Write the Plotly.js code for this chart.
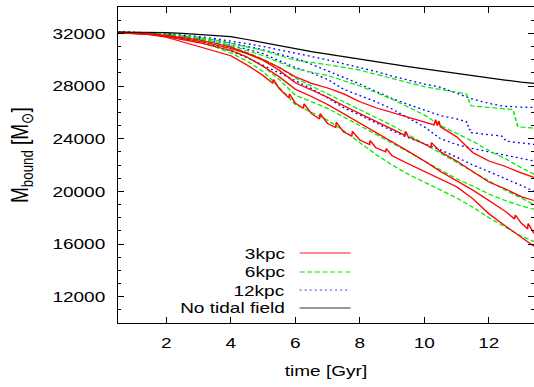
<!DOCTYPE html>
<html><head><meta charset="utf-8">
<script src="https://cdn.plot.ly/plotly-3.0.1.min.js"></script>
<style>
html,body{margin:0;padding:0;background:#fff;overflow:hidden}
#wrap{width:534px;height:387px;overflow:hidden}
#plot{width:421px;height:387px;transform:scaleX(1.26841);transform-origin:0 0}
</style>
</head><body><div id="wrap"><div id="plot"></div></div>
<script>
// ---- data (time in Gyr, bound mass in Msun) ----
var T = [0.5,1,1.5,2,2.5,3,3.5,4,4.5,5,5.5,6,6.5,7,7.5,8,8.5,9,9.5,10,10.5,11,11.5,12,12.5,13,13.4];

var noTidal = [32100,32090,32070,32050,32000,31920,31840,31750,31530,31300,31060,30800,30610,30420,30220,30020,29830,29650,29470,29300,29120,28950,28780,28600,28450,28300,28200];

// 3 kpc runs
var r1T = [0.5,1,1.5,2,2.5,3,3.5,4,4.5,5,5.5,6,6.5,7,7.5,8,8.5,9,9.5,10,10.3,10.35,10.4,10.45,10.5,11,11.3,11.5,12,12.5,13,13.4];
var r1M = [32080,32040,31960,31850,31700,31500,31250,30950,30500,30000,29400,28700,28200,27850,27400,26800,26350,26000,25600,25250,25050,25450,25000,25350,24900,24150,23400,22950,22300,21900,21400,21050];
var r2T = [0.5,1,1.5,2,2.5,3,3.5,4,4.5,5,5.5,6,6.5,7,7.5,8,8.5,9,9.4,9.42,9.5,10,10.2,10.22,10.5,11,11.5,12,12.5,13,13.4];
var r2M = [32070,32020,31930,31800,31620,31400,31130,30850,30450,29950,29200,28250,27700,27150,26500,25900,25300,24700,24250,24550,24150,23600,23350,23700,23000,22300,21500,20700,20200,19600,19300];
var r3T = [0.5,1,1.5,2,2.5,3,3.5,4,4.5,5,5.5,6,6.5,7,7.5,8,8.5,9,9.5,10,10.5,11,11.5,12,12.5,12.8,12.82,13,13.2,13.22,13.4];
var r3M = [32060,32000,31900,31750,31550,31300,31000,30700,30200,29500,28700,27750,27200,26600,25900,25200,24500,23800,23050,22300,21500,20800,20100,19300,18500,17900,18200,17600,17150,17550,16800];
var r4T = [0.5,1,1.5,2,2.5,3,3.5,4,4.5,5,5.3,5.32,5.5,5.8,5.82,6,6.25,6.27,6.5,6.75,6.77,7,7.25,7.27,7.5,7.75,7.77,8,8.3,8.32,8.5,8.8,8.82,9,9.5,10,10.5,11,11.5,12,12.5,13,13.4];
var r4M = [32050,32000,31900,31700,31350,30950,30650,30300,29600,28800,28200,28500,27800,27100,27400,26700,26300,26650,25900,25500,25900,25150,24850,25250,24500,24200,24550,23900,23550,23850,23300,23000,23250,22700,22100,21500,20900,20350,19450,18300,17400,16500,15825];

// 6 kpc runs
var g1T = [0.5,1,1.5,2,2.5,3,3.5,4,4.5,5,5.5,6,6.5,7,7.5,8,8.5,9,9.5,10,10.5,11,11.3,11.45,12,12.5,12.75,12.9,13.4];
var g1M = [32100,32080,32030,31950,31850,31700,31500,31250,30980,30700,30330,29950,29800,29620,29420,29200,28900,28550,28250,27950,27740,27500,27400,26500,26350,26250,26200,24900,24800];
var g2M = [32100,32070,32010,31920,31800,31620,31380,31080,30700,30300,29800,29300,29050,28800,28400,28000,27500,27000,26400,25800,25000,24400,23800,23100,22500,21800,21300];
var g3M = [32090,32060,31990,31880,31740,31540,31280,30950,30550,30050,29400,28600,28000,27400,26800,26200,25600,25000,24300,23600,22900,22200,21500,20800,20100,19500,19000];
var g4M = [32080,32040,31960,31840,31680,31460,31150,30750,30200,29500,28500,27300,26800,26300,25650,25000,24350,23700,23000,22300,21600,20950,20400,19800,19300,18900,18650];
var g5M = [32080,32030,31940,31800,31600,31330,30980,30500,29900,29100,27900,26600,26000,25400,24600,23700,22800,22000,21300,20700,20100,19500,18800,18000,17300,16600,16200];

// 12 kpc runs
var b1M = [32100,32090,32050,31980,31880,31760,31600,31420,31220,31000,30760,30500,30240,29980,29700,29400,29100,28750,28420,28150,27900,27450,27000,26680,26450,26400,26370];
var b2T = [0.5,1,1.5,2,2.5,3,3.5,4,4.5,5,5.5,6,6.5,7,7.5,8,8.5,9,9.5,10,10.5,11,11.3,11.45,12,12.4,12.55,13,13.4];
var b2M = [32100,32080,32030,31950,31830,31680,31500,31280,31020,30750,30450,30100,29650,29150,28700,28150,27600,27050,26600,26150,25750,25500,25300,24450,24300,24200,23800,23650,23560];
var b3M = [32100,32070,32000,31900,31760,31580,31360,31100,30800,30450,29950,29400,29000,28500,27750,27300,26800,26250,25600,24900,24000,23550,23250,23000,22750,22500,22300];
var b4M = [32080,32040,31950,31800,31600,31350,31050,30650,30150,29600,29000,28400,27800,27100,26350,25800,25200,24600,24080,23600,23150,22600,22000,21500,21000,20450,20000];

var legendNames = ['3kpc','6kpc','12kpc','No tidal field'];
var yTicks = [12000,16000,20000,24000,28000,32000];
var xTicks = [2,4,6,8,10,12];

// ---- styles ----
var RED = '#ff0000', GREEN = '#00ee00', BLUE = '#0000ff', BLACK = '#000000';
var redLine = {color: RED, width: 1.2};
var greenLine = {color: GREEN, width: 1.2, dash: '4px,2px'};
var blueLine = {color: BLUE, width: 1.3, dash: '1.5px,2.5px'};

function tr(x, y, line) { return {x: x, y: y, type: 'scatter', mode: 'lines', line: line, showlegend: false, hoverinfo: 'skip'}; }

var data = [
  tr(T, b4M, blueLine), tr(T, b3M, blueLine), tr(b2T, b2M, blueLine), tr(T, b1M, blueLine),
  tr(T, g5M, greenLine), tr(T, g4M, greenLine), tr(T, g3M, greenLine), tr(T, g2M, greenLine), tr(g1T, g1M, greenLine),
  tr(r4T, r4M, redLine), tr(r3T, r3M, redLine), tr(r2T, r2M, redLine), tr(r1T, r1M, redLine),
  tr(T, noTidal, {color: BLACK, width: 1.2})
];

var FONT = {family: 'Liberation Sans, Arial, Helvetica, sans-serif', size: 15, color: '#000'};

// manual legend (text left of sample line)
var legY = [0.2215, 0.1614, 0.1044, 0.0475];
var legStyle = [
  {color: '#ff6666', width: 1.6},
  {color: '#55ee55', width: 1.6, dash: '4px,2px'},
  {color: '#7777ff', width: 1.6, dash: '1.5px,2.5px'},
  {color: '#777777', width: 1.6}
];
var annotations = [], shapes = [];
for (var i = 0; i < legendNames.length; i++) {
  annotations.push({xref: 'paper', yref: 'paper', x: 0.408, y: legY[i], xanchor: 'right', yanchor: 'middle',
    text: legendNames[i], showarrow: false, font: FONT});
  shapes.push({type: 'line', xref: 'paper', yref: 'paper', x0: 0.4366, x1: 0.559, y0: legY[i], y1: legY[i], line: legStyle[i]});
}
// y-axis title as a rotated annotation
annotations.push({xref: 'paper', yref: 'paper', x: -0.232, y: 0.532, xanchor: 'center', yanchor: 'middle',
  textangle: -90, showarrow: false, borderpad: 0, text: 'M<sub>bound</sub> [M<sub>\u2299</sub>]',
  font: {family: FONT.family, size: 19, color: '#000'}});

var layout = {
  width: 421, height: 387,
  margin: {l: 93, r: 0, t: 7, b: 64},
  paper_bgcolor: '#fff', plot_bgcolor: '#fff',
  font: FONT,
  showlegend: false,
  xaxis: {
    range: [0.5, 13.4], tickvals: xTicks, ticks: 'inside', ticklen: 6, tickcolor: '#000',
    showline: true, linecolor: '#000', linewidth: 1, mirror: 'ticks', showgrid: false, zeroline: false,
    ticklabelstandoff: 6,
    title: {text: 'time [Gyr]', font: FONT, standoff: 15}
  },
  yaxis: {
    range: [10000, 34000], tickvals: yTicks, tickformat: 'd', ticks: 'inside', ticklen: 5, tickcolor: '#000',
    showline: true, linecolor: '#000', linewidth: 1, mirror: 'ticks', showgrid: false, zeroline: false,
    minor: {dtick: 1000, tick0: 0, ticks: 'inside', ticklen: 2.5, tickcolor: '#000', showgrid: false},
    ticklabelstandoff: 6
  },
  annotations: annotations,
  shapes: shapes
};

Plotly.newPlot('plot', data, layout, {displayModeBar: false, staticPlot: true});
</script></body></html>
